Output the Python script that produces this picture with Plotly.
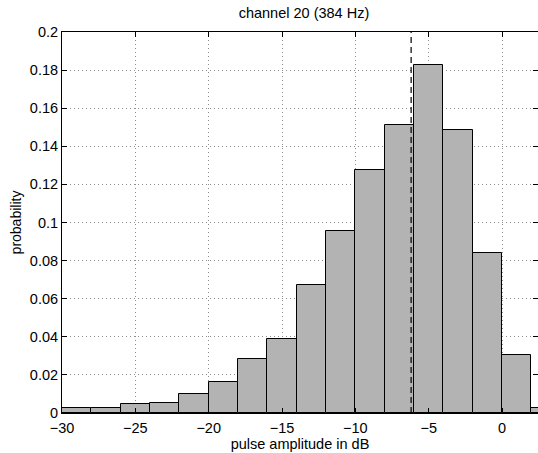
import plotly.graph_objects as go

# Data
bin_left_edges = [-30, -28, -26, -24, -22, -20, -18, -16, -14, -12, -10, -8, -6, -4, -2, 0, 2]
bin_width = 2
probabilities = [0.0025, 0.0028, 0.0046, 0.0051, 0.0102, 0.0165, 0.0282, 0.0391, 0.0671,
                 0.0955, 0.1276, 0.1511, 0.1828, 0.1485, 0.0838, 0.0303, 0.0025]
median_line_x = -6.2

x_tick_vals = [-30, -25, -20, -15, -10, -5, 0]
x_tick_text = ["\u221230", "\u221225", "\u221220", "\u221215", "\u221210", "\u22125", "0"]
y_tick_vals = [0, 0.02, 0.04, 0.06, 0.08, 0.1, 0.12, 0.14, 0.16, 0.18, 0.2]
y_tick_text = ["0", "0.02", "0.04", "0.06", "0.08", "0.1", "0.12", "0.14", "0.16", "0.18", "0.2"]

title_text = "channel 20 (384 Hz)"
x_label = "pulse amplitude in dB"
y_label = "probability"

centers = [e + bin_width / 2 for e in bin_left_edges]

fig = go.Figure()
fig.add_trace(go.Bar(
    x=centers, y=probabilities, width=bin_width,
    marker=dict(color="#b3b3b3", line=dict(color="black", width=1)),
    showlegend=False, hoverinfo="x+y",
))

fig.add_shape(type="line", xref="x", yref="paper", x0=median_line_x, x1=median_line_x,
              y0=0, y1=1, line=dict(color="black", width=1.2, dash="6px,4px"))

font_family = "Liberation Sans, Arial, Helvetica, sans-serif"
grid_dash = "1px,3px"

fig.update_layout(
    width=538, height=453,
    margin=dict(l=62, r=0, t=32, b=40),
    paper_bgcolor="white", plot_bgcolor="white",
    font=dict(family=font_family, size=14, color="black"),
    bargap=0,
    title=dict(text=title_text, x=0.565, xanchor="center", y=0.972, yanchor="middle",
               font=dict(size=14.5, family=font_family)),
    xaxis=dict(
        range=[-30, 2.45], tickvals=x_tick_vals, ticktext=x_tick_text,
        ticks="inside", ticklen=5, tickcolor="black", showline=True, linecolor="black",
        linewidth=1, mirror="ticks", showgrid=True, gridcolor="#8c8c8c", griddash=grid_dash,
        gridwidth=1, zeroline=False, tickfont=dict(size=14.5), ticklabelstandoff=2,
        title=dict(text=x_label, font=dict(size=14.5), standoff=0),
    ),
    yaxis=dict(
        range=[0, 0.2], tickvals=y_tick_vals, ticktext=y_tick_text,
        ticks="inside", ticklen=5, tickcolor="black", showline=True, linecolor="black",
        linewidth=1, mirror="ticks", showgrid=True, gridcolor="#8c8c8c", griddash=grid_dash,
        gridwidth=1, zeroline=False, tickfont=dict(size=14.5),
        title=dict(text=y_label, font=dict(size=14), standoff=4),
    ),
)

fig.write_html("out.html")
